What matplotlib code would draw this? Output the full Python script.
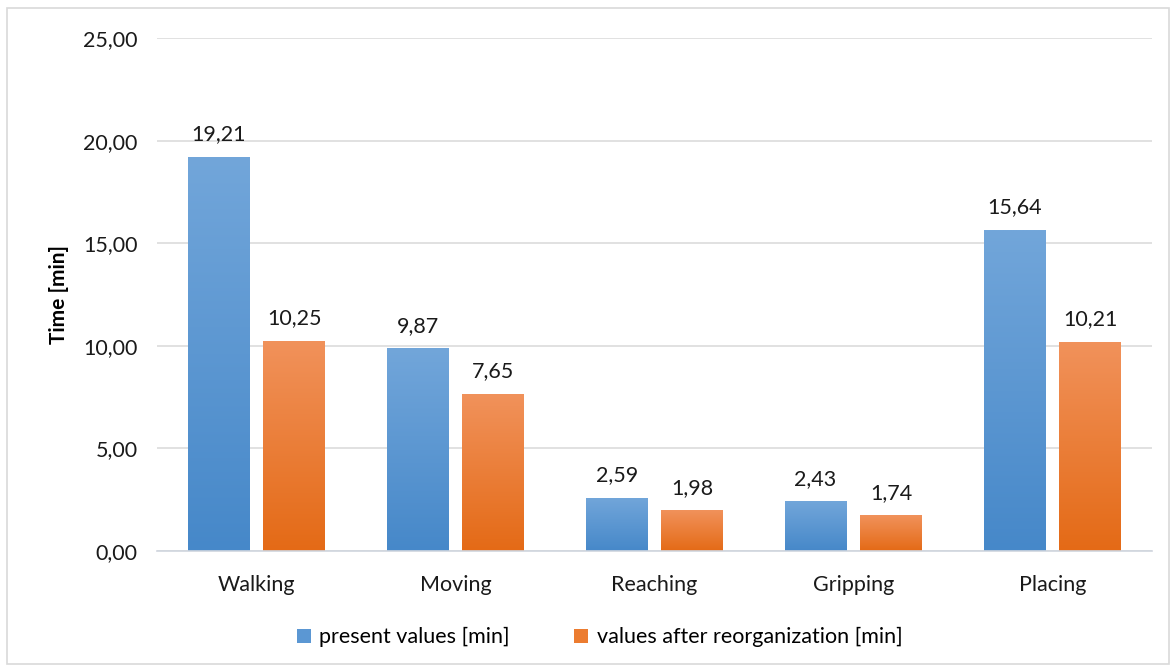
import matplotlib.pyplot as plt
import numpy as np
from matplotlib.patches import Rectangle
from matplotlib.colors import LinearSegmentedColormap

categories = ['Walking', 'Moving', 'Reaching', 'Gripping', 'Placing']
present = [19.21, 9.87, 2.59, 2.43, 15.64]
after = [10.25, 7.65, 1.98, 1.74, 10.21]
series_names = ['present values [min]', 'values after reorganization [min]']
y_ticks = [0, 5, 10, 15, 20, 25]

plt.rcParams['font.family'] = ['Lato', 'DejaVu Sans']
fs = 15.5

blue_cmap = LinearSegmentedColormap.from_list('b', ['#4688c9', '#72a6da'])
orange_cmap = LinearSegmentedColormap.from_list('o', ['#e46a16', '#f1925b'])

fig = plt.figure(figsize=(11.76, 6.68), dpi=100)
ax = fig.add_axes([0.1335, 0.1751, 0.846, 0.768])

fig.patches.append(Rectangle((0.006, 0.006), 0.988, 0.982, transform=fig.transFigure,
                             fill=False, edgecolor='#d9d9d9', linewidth=1.2))

x = np.arange(len(categories))
width = 0.31
offset = 0.19
grad = np.linspace(0, 1, 256).reshape(-1, 1)

def gradient_bars(xs, vals, cmap, label):
    bars = ax.bar(xs, vals, width, color='none', edgecolor='none', label=label)
    for b in bars:
        x0, y0 = b.get_x(), b.get_y()
        w, h = b.get_width(), b.get_height()
        im = ax.imshow(grad, cmap=cmap, aspect='auto', origin='lower',
                       extent=[x0, x0 + w, y0, y0 + h], zorder=2)
        im.set_clip_path(b)
    for xi, v in zip(xs, vals):
        ax.annotate(f'{v:.2f}'.replace('.', ','), (xi, v), xytext=(0, 9),
                    textcoords='offset points', ha='center', va='bottom',
                    fontsize=fs, color='#1a1a1a')
    return bars

gradient_bars(x - offset, present, blue_cmap, series_names[0])
gradient_bars(x + offset, after, orange_cmap, series_names[1])

ax.set_xlim(-0.5, len(categories) - 0.5)
ax.set_ylim(0, 25)
ax.set_yticks(y_ticks)
ax.set_yticklabels([f'{t:.2f}'.replace('.', ',') for t in y_ticks], fontsize=fs, color='#1a1a1a')
ax.set_xticks(x)
ax.set_xticklabels(categories, fontsize=fs, color='#1a1a1a')
ax.tick_params(axis='y', length=0, pad=14)
ax.tick_params(axis='x', length=0, pad=17)
ax.yaxis.grid(True, color='#d9d9d9', linewidth=1.1, zorder=0)
ax.set_axisbelow(True)
for s in ['top', 'right', 'left']:
    ax.spines[s].set_visible(False)
ax.spines['bottom'].set_color('#d0d5de')
ax.spines['bottom'].set_linewidth(1.2)
ax.set_ylabel('Time [min]', fontsize=fs - 0.5, fontweight='bold', labelpad=10)

handles = [Rectangle((0, 0), 1, 1, facecolor='#5b97d3'), Rectangle((0, 0), 1, 1, facecolor='#ec7c30')]
fig.legend(handles, series_names, loc='center', bbox_to_anchor=(0.51, 0.046), ncol=2,
           frameon=False, fontsize=fs, handlelength=0.65, handleheight=0.65,
           handletextpad=0.4, columnspacing=3.0)

fig.savefig('out.png', dpi=100)
